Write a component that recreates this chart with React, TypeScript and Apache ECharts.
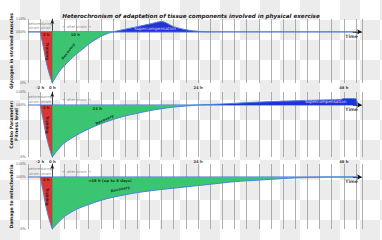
import React, { useEffect, useRef } from 'react';
import * as echarts from 'echarts';

const TITLE = 'Heterochronism of adaptation of tissue components involved in physical exercise';
const yTitles = ['Glycogen in strained muscles', 'Combo Parameter:\nFitness level', 'Damage to mitochondria'];
const xTickValues = [-2, 0, 24, 48];
const yTickValues = [0, 100, 125];
const yTickLabels = ['0%', '100%', '110%'];
const timeRange = [-4, 51];

// panel 1: glycogen
const training1 = [[-2, 100], [-1.5, 72], [-1, 41], [-0.5, 18], [0, 0]];
const recovery1 = [[0, 0], [1, 20], [2, 34], [3, 46], [4, 57], [5, 66], [6, 76], [7, 84], [8, 91], [9, 96], [10, 100]];
const super1 = [[10, 100], [12, 105], [14, 110], [16, 115], [18, 120], [20, 110], [22, 104], [24, 101], [26, 100]];
// panel 2: fitness
const training2 = [[-2, 100], [-1.5, 72], [-1, 41], [-0.5, 18], [0, 0]];
const recovery2 = [[0, 0], [1, 15], [2, 27], [4, 42], [6, 54], [8, 64], [10, 72], [12, 79], [14, 84], [16, 89], [18, 93], [20, 96], [22, 98], [24, 100]];
const super2 = [[24, 100], [28, 102], [32, 104.5], [36, 106.5], [40, 108], [44, 109.5], [47.5, 110.5], [48, 112.5], [50, 112], [50.2, 100]];
// panel 3: mitochondria
const training3 = [[-2, 100], [-1.5, 72], [-1, 41], [-0.5, 18], [0, 0]];
const recovery3 = [[0, 0], [1, 13], [2, 24], [4, 38], [6, 47], [8, 55], [10, 61], [14, 70], [18, 76], [22, 81], [26, 86], [30, 91], [34, 94], [38, 97], [42, 99], [46, 100], [50, 100]];

// annotations: [x, y, text, rotate, kind]
const notes1 = [
  [-3, 111, 'before\nstrain', 0, 'box'], [-1, 111, 'during\nstrain', 0, 'box'], [4, 109, '← after strain →', 0, 'box'],
  [-1, 95, '2 h', 0, 'b'], [-0.8, 62, 'Training', -90, 'b'], [3.8, 95, '10 h', 0, 'b'],
  [2.6, 62, 'Recovery', 52, 'b'], [16.9, 107, 'Supercompensation', 0, 'w'], [49.3, 91, 'Time', 0, 't'],
];
const notes2 = [
  [-3, 111, 'before\nstrain', 0, 'box'], [-1, 111, 'during\nstrain', 0, 'box'], [4, 109, '← after strain →', 0, 'box'],
  [-1, 95, '2 h', 0, 'b'], [-0.8, 62, 'Training', -90, 'b'], [7.4, 94, '24 h', 0, 'b'],
  [8.6, 72, 'Recovery', 25, 'b'], [45, 107, 'Supercompensation', 0, 'w'], [49.3, 91, 'Time', 0, 't'],
];
const notes3 = [
  [-3, 111, 'before\nstrain', 0, 'box'], [-1, 111, 'during\nstrain', 0, 'box'], [4, 109, '← after strain →', 0, 'box'],
  [-1, 95, '2 h', 0, 'b'], [-0.8, 62, 'Training', -90, 'b'], [9.5, 93, '>48 h (up to 8 days)', 0, 'b'],
  [11.2, 77, 'Recovery', 12, 'b'], [49.3, 91, 'Time', 0, 't'],
];

const RED = '#db3535';
const GREEN = '#3bc573';
const BLUE = '#2430d8';
const LINE = '#4a84dc';
const FONT = 'DejaVu Sans';

const grids = [
  { left: 28, right: 20, top: 19, height: 64, outerBoundsMode: 'none' },
  { left: 28, right: 20, top: 92, height: 65, outerBoundsMode: 'none' },
  { left: 28, right: 20, top: 164, height: 65, outerBoundsMode: 'none' },
];

function areaSeries(data: number[][], color: string, gi: number, z: number) {
  return {
    type: 'line', xAxisIndex: gi, yAxisIndex: gi, data, symbol: 'none', smooth: 0.3, z,
    lineStyle: { color: LINE, width: 1 },
    areaStyle: { color, opacity: 1, origin: 100 },
  };
}

function noteSeries(notes: any[], gi: number) {
  return {
    type: 'scatter', xAxisIndex: gi, yAxisIndex: gi, symbolSize: 0, z: 10, silent: true,
    data: notes.map((n) => {
      const kind = n[4];
      const style: any = { show: true, position: 'inside', formatter: n[2], rotate: n[3], fontFamily: FONT, lineHeight: 4.5 };
      if (kind === 'box') Object.assign(style, { fontSize: 3.6, color: '#666' });
      else if (kind === 'w') Object.assign(style, { fontSize: 4.2, color: '#ffffff' });
      else if (kind === 't') Object.assign(style, { fontSize: 4.6, color: '#111', fontWeight: 'bold' });
      else Object.assign(style, { fontSize: 3.8, color: '#111', fontWeight: 'bold' });
      return { value: [n[0], n[1]], label: style };
    }),
  };
}

function baseline(gi: number) {
  return {
    type: 'line', xAxisIndex: gi, yAxisIndex: gi, symbol: 'none', z: 1,
    data: [[timeRange[0], 100], [50.6, 100]],
    lineStyle: { color: '#3d72d4', width: 1.2 },
    markLine: {
      silent: true, symbol: ['none', 'arrow'], symbolSize: [4, 5],
      lineStyle: { color: '#111', width: 0.6, type: 'solid' }, label: { show: false },
      data: [[{ coord: [49.5, 100] }, { coord: [timeRange[1], 100] }]],
    },
  };
}

export default function App() {
  const ref = useRef<HTMLDivElement>(null);
  useEffect(() => {
    const chart = echarts.init(ref.current!, null, { renderer: 'svg' });
    const xAxis = grids.map((_, i) => ({
      type: 'value', gridIndex: i, min: timeRange[0], max: timeRange[1], interval: 2,
      axisLine: { show: false }, axisTick: { show: false },
      splitLine: { show: true, lineStyle: { color: '#9a9a9a', width: 0.8 } },
      axisLabel: {
        show: i < 2, customValues: xTickValues, formatter: (v: number) => `${v} h`,
        fontSize: 3.8, color: '#444', margin: 2, fontFamily: FONT, fontWeight: 'bold',
      },
    }));
    const yAxis = grids.map((_, i) => ({
      type: 'value', gridIndex: i, min: 0, max: 125,
      axisLine: { show: true, symbol: ['none', 'arrow'], symbolSize: [3, 5], lineStyle: { color: '#222', width: 0.7 } },
      axisTick: { show: false }, splitLine: { show: false },
      axisLabel: {
        customValues: yTickValues,
        formatter: (v: number) => yTickLabels[yTickValues.indexOf(v)] ?? '',
        fontSize: 3.6, color: '#555', margin: 2, fontFamily: FONT,
      },
      name: yTitles[i], nameLocation: 'middle', nameRotate: 90, nameGap: i === 1 ? 8.5 : 13.5,
      nameMoveOverlap: false,
      nameTextStyle: { fontSize: 4.6, fontWeight: 'bold', color: '#222', fontFamily: FONT, lineHeight: 5.5 },
    }));
    chart.setOption({
      animation: false,
      title: {
        text: TITLE, left: 'center', top: 8,
        textStyle: { fontSize: 5.6, fontWeight: 'bold', fontStyle: 'italic', color: '#222', fontFamily: FONT },
      },
      grid: grids,
      xAxis, yAxis,
      series: [
        baseline(0), areaSeries(training1, RED, 0, 3), areaSeries(recovery1, GREEN, 0, 3), areaSeries(super1, BLUE, 0, 3), noteSeries(notes1, 0),
        baseline(1), areaSeries(training2, RED, 1, 3), areaSeries(recovery2, GREEN, 1, 3), areaSeries(super2, BLUE, 1, 3), noteSeries(notes2, 1),
        baseline(2), areaSeries(training3, RED, 2, 3), areaSeries(recovery3, GREEN, 2, 3), noteSeries(notes3, 2),
      ],
    });
    return () => chart.dispose();
  }, []);
  return (
    <div
      ref={ref}
      style={{
        position: 'absolute', left: 0, top: 0, width: 382, height: 240,
        background: 'repeating-conic-gradient(#ececec 0% 25%, #ffffff 0% 50%) 0 0 / 40px 40px',
      }}
    />
  );
}
